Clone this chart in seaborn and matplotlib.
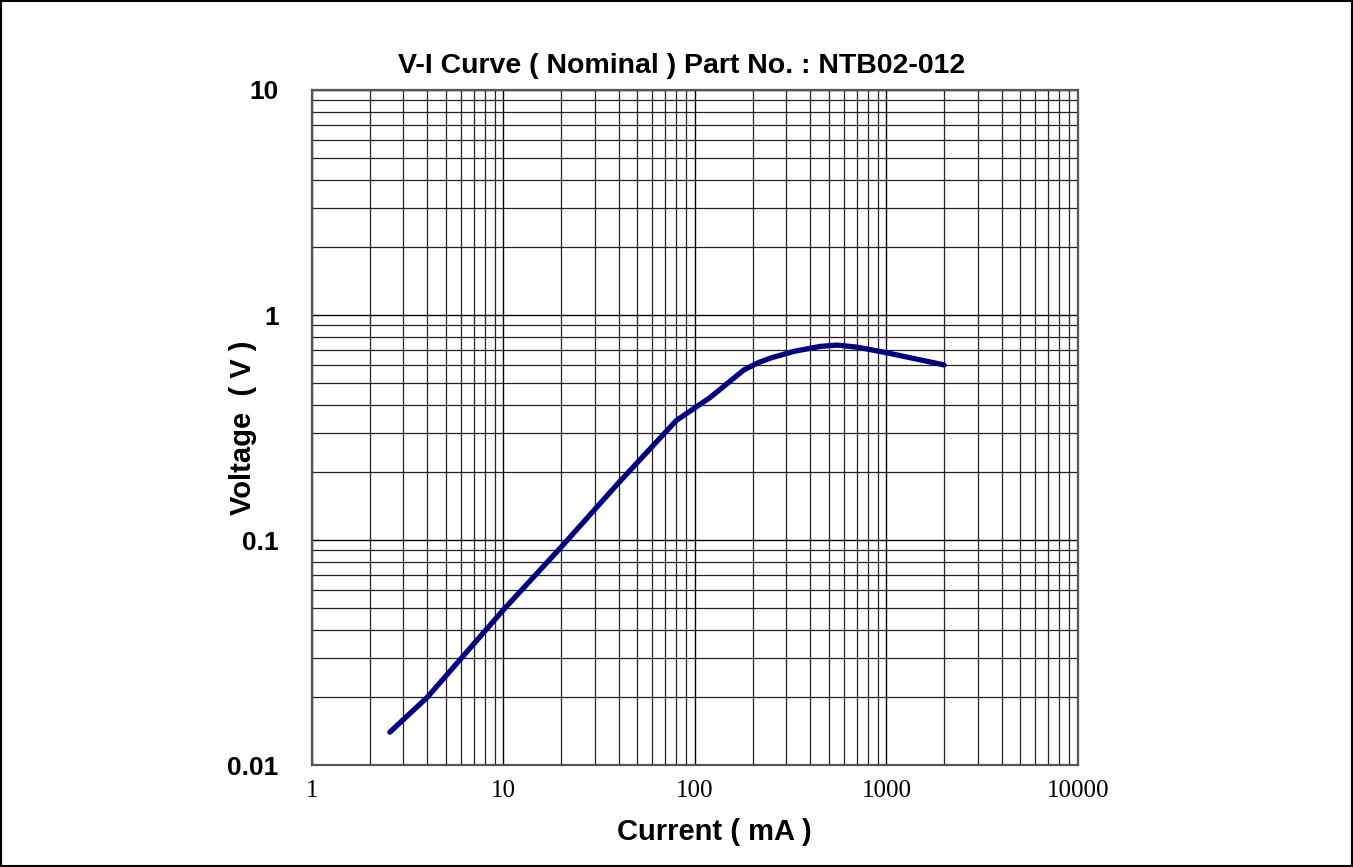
import matplotlib
matplotlib.use('Agg')
import matplotlib.pyplot as plt
import seaborn as sns
from matplotlib.patches import Rectangle
from matplotlib.ticker import LogLocator, NullFormatter, FixedLocator, FixedFormatter

# data
current_ma = [2.55, 4.0, 10, 20, 40, 80, 120, 180, 215, 250, 330, 450, 550, 700, 1000, 2000]
voltage_v = [0.014, 0.020, 0.049, 0.093, 0.18, 0.34, 0.43, 0.57, 0.615, 0.645, 0.69, 0.725, 0.735, 0.72, 0.68, 0.60]

x_ticks = [1, 10, 100, 1000, 10000]
x_labels = ['1', '10', '100', '1000', '10000']
y_ticks = [0.01, 0.1, 1, 10]
y_labels = ['0.01', '0.1', '1', '10']

sns.set_style('white')
plt.rcParams['font.family'] = ['Liberation Sans', 'DejaVu Sans']
plt.rcParams['text.color'] = 'black'
plt.rcParams['axes.labelcolor'] = 'black'
plt.rcParams['xtick.color'] = 'black'
plt.rcParams['ytick.color'] = 'black'

fig = plt.figure(figsize=(13.53, 8.67), dpi=100)
ax = fig.add_axes([0.2306, 0.1176, 0.5661, 0.7786])

sns.lineplot(x=current_ma, y=voltage_v, ax=ax, color='#000080', linewidth=3.8,
             solid_capstyle='round', solid_joinstyle='round', sort=False)

ax.set_xscale('log')
ax.set_yscale('log')
ax.set_xlim(1, 10000)
ax.set_ylim(0.01, 10)

ax.xaxis.set_major_locator(FixedLocator(x_ticks))
ax.xaxis.set_major_formatter(FixedFormatter(x_labels))
ax.yaxis.set_major_locator(FixedLocator(y_ticks))
ax.yaxis.set_major_formatter(FixedFormatter(y_labels))
ax.xaxis.set_minor_locator(LogLocator(base=10, subs=range(2, 10), numticks=20))
ax.yaxis.set_minor_locator(LogLocator(base=10, subs=range(2, 10), numticks=20))
ax.xaxis.set_minor_formatter(NullFormatter())
ax.yaxis.set_minor_formatter(NullFormatter())

ax.grid(True, which='major', color='black', linewidth=1.0)
ax.grid(True, which='minor', color='#222222', linewidth=0.9)
ax.tick_params(which='both', length=0)
ax.tick_params(axis='x', pad=11)
ax.tick_params(axis='y', pad=24)

for lab in ax.get_xticklabels():
    lab.set_family('Liberation Serif')
    lab.set_fontsize(18)
for lab in ax.get_yticklabels():
    lab.set_fontweight('bold')
    lab.set_fontsize(19)

for s in ax.spines.values():
    s.set_visible(True)
    s.set_color('#555555')
    s.set_linewidth(1.6)

ax.set_title('V-I Curve ( Nominal ) Part No. : NTB02-012', fontsize=20.5, fontweight='bold',
             pad=12, x=0.483)
ax.set_xlabel('Current ( mA )', fontsize=21, fontweight='bold')
ax.set_ylabel('Voltage  ( V )', fontsize=21, fontweight='bold')
ax.xaxis.set_label_coords(0.525, -0.078)
ax.yaxis.set_label_coords(-0.072, 0.5)

fig.patches.append(Rectangle((0.001, 0.001), 0.998, 0.998, transform=fig.transFigure,
                             fill=False, edgecolor='black', linewidth=1.5))

fig.savefig('out.png', dpi=100)
